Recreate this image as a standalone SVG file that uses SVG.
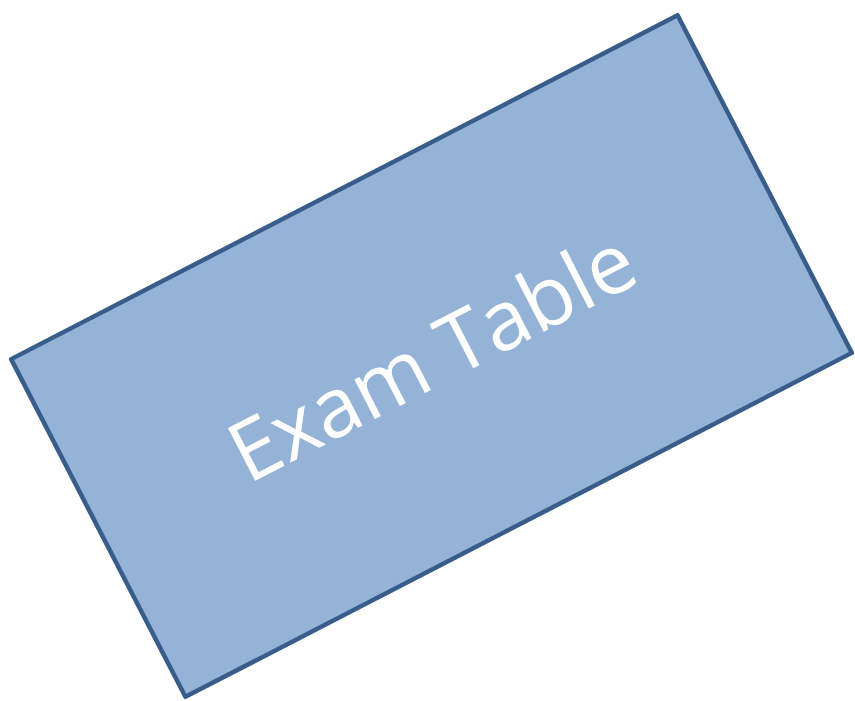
<svg xmlns="http://www.w3.org/2000/svg" width="855" height="701" viewBox="0 0 855 701">
<style>
.box{fill:#95B3D7;stroke:#385D8A;stroke-width:4.5;stroke-linejoin:round}
.lbl{font-family:"Open Sans","Noto Sans","Liberation Sans",sans-serif;font-size:83px;fill:#FFFFFF;text-anchor:middle}
</style>
<rect width="855" height="701" fill="#FFFFFF"/>
<g id="exam-table" transform="translate(431.5,356) rotate(-27.3)">
<rect class="box" x="-375" y="-190" width="750" height="380"/>
<text class="lbl" x="0" y="30">Exam Table</text>
</g>
<g id="connectors"/>
</svg>
